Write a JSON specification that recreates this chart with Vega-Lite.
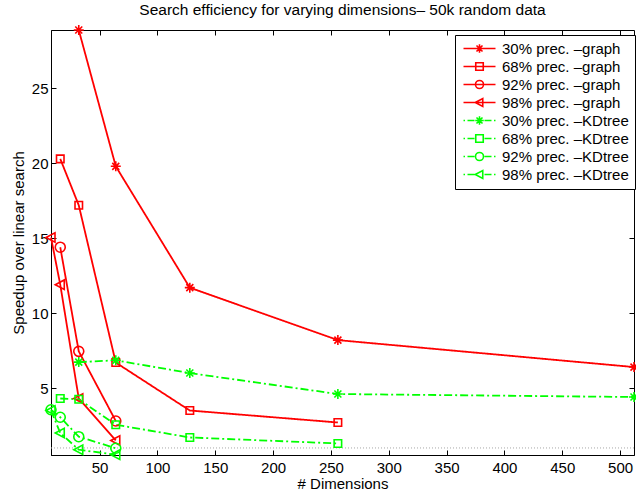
{
  "$schema": "https://vega.github.io/schema/vega-lite/v6.json",
  "width": 583,
  "height": 425,
  "autosize": "none",
  "padding": {"left": 51, "top": 30, "right": 2, "bottom": 41},
  "background": "white",
  "title": {
    "text": "Search efficiency for varying dimensions– 50k random data",
    "font": "Liberation Sans",
    "fontSize": 15.5,
    "fontWeight": "normal",
    "color": "black",
    "anchor": "middle",
    "offset": 3
  },
  "config": {
    "view": {"stroke": "black", "strokeWidth": 1},
    "axis": {
      "grid": false,
      "domainColor": "black",
      "tickColor": "black",
      "labelColor": "black",
      "titleColor": "black",
      "labelFont": "Liberation Sans",
      "titleFont": "Liberation Sans",
      "labelFontSize": 15,
      "titleFontSize": 15,
      "titleFontWeight": "normal",
      "tickSize": -5,
      "labelPadding": 8
    }
  },
  "datasets": {
    "speedup": [
      {"dims": 32, "speedup": 28.9, "series": "30% prec. –graph"},
      {"dims": 64, "speedup": 19.8, "series": "30% prec. –graph"},
      {"dims": 128, "speedup": 11.7, "series": "30% prec. –graph"},
      {"dims": 256, "speedup": 8.2, "series": "30% prec. –graph"},
      {"dims": 512, "speedup": 6.4, "series": "30% prec. –graph"},
      {"dims": 16, "speedup": 20.3, "series": "68% prec. –graph"},
      {"dims": 32, "speedup": 17.2, "series": "68% prec. –graph"},
      {"dims": 64, "speedup": 6.7, "series": "68% prec. –graph"},
      {"dims": 128, "speedup": 3.5, "series": "68% prec. –graph"},
      {"dims": 256, "speedup": 2.7, "series": "68% prec. –graph"},
      {"dims": 16, "speedup": 14.4, "series": "92% prec. –graph"},
      {"dims": 32, "speedup": 7.45, "series": "92% prec. –graph"},
      {"dims": 64, "speedup": 2.8, "series": "92% prec. –graph"},
      {"dims": 8, "speedup": 15.05, "series": "98% prec. –graph"},
      {"dims": 16, "speedup": 11.9, "series": "98% prec. –graph"},
      {"dims": 32, "speedup": 4.3, "series": "98% prec. –graph"},
      {"dims": 64, "speedup": 1.5, "series": "98% prec. –graph"},
      {"dims": 32, "speedup": 6.73, "series": "30% prec. –KDtree"},
      {"dims": 64, "speedup": 6.85, "series": "30% prec. –KDtree"},
      {"dims": 128, "speedup": 6.0, "series": "30% prec. –KDtree"},
      {"dims": 256, "speedup": 4.6, "series": "30% prec. –KDtree"},
      {"dims": 512, "speedup": 4.4, "series": "30% prec. –KDtree"},
      {"dims": 16, "speedup": 4.3, "series": "68% prec. –KDtree"},
      {"dims": 32, "speedup": 4.25, "series": "68% prec. –KDtree"},
      {"dims": 64, "speedup": 2.55, "series": "68% prec. –KDtree"},
      {"dims": 128, "speedup": 1.7, "series": "68% prec. –KDtree"},
      {"dims": 256, "speedup": 1.3, "series": "68% prec. –KDtree"},
      {"dims": 8, "speedup": 3.55, "series": "92% prec. –KDtree"},
      {"dims": 16, "speedup": 3.05, "series": "92% prec. –KDtree"},
      {"dims": 32, "speedup": 1.75, "series": "92% prec. –KDtree"},
      {"dims": 64, "speedup": 0.98, "series": "92% prec. –KDtree"},
      {"dims": 8, "speedup": 3.5, "series": "98% prec. –KDtree"},
      {"dims": 16, "speedup": 2.0, "series": "98% prec. –KDtree"},
      {"dims": 32, "speedup": 0.88, "series": "98% prec. –KDtree"},
      {"dims": 64, "speedup": 0.55, "series": "98% prec. –KDtree"}
    ],
    "baseline": [{"speedup": 1}]
  },
  "resolve": {
    "axis": {"x": "independent", "y": "independent"},
    "scale": {"shape": "independent"},
    "legend": {"shape": "independent"}
  },
  "layer": [
    {
      "data": {"name": "baseline"},
      "mark": {"type": "rule", "color": "#a8a8a8", "strokeWidth": 1, "strokeDash": [1, 2]},
      "encoding": {
        "y": {
          "field": "speedup", "type": "quantitative",
          "scale": {"domain": [0.53, 28.9], "nice": false, "zero": false},
          "axis": {"values": [5, 10, 15, 20, 25], "title": "Speedup over linear search", "titlePadding": 5}
        }
      }
    },
    {
      "data": {"name": "speedup"},
      "mark": {"type": "line", "strokeWidth": 1.8, "clip": false},
      "encoding": {
        "x": {
          "field": "dims", "type": "quantitative",
          "scale": {"domain": [8, 512], "nice": false, "zero": false},
          "axis": {"values": [50, 100, 150, 200, 250, 300, 350, 400, 450, 500], "title": "# Dimensions", "titlePadding": 1, "labelPadding": 10}
        },
        "y": {"field": "speedup", "type": "quantitative", "axis": null},
        "order": {"field": "dims"},
        "color": {
          "field": "series", "type": "nominal",
          "scale": {
            "domain": ["30% prec. –graph", "68% prec. –graph", "92% prec. –graph", "98% prec. –graph", "30% prec. –KDtree", "68% prec. –KDtree", "92% prec. –KDtree", "98% prec. –KDtree"],
            "range": ["#ff0000", "#ff0000", "#ff0000", "#ff0000", "#00ff00", "#00ff00", "#00ff00", "#00ff00"]
          },
          "legend": null
        },
        "strokeDash": {
          "field": "series", "type": "nominal",
          "scale": {
            "domain": ["30% prec. –graph", "68% prec. –graph", "92% prec. –graph", "98% prec. –graph", "30% prec. –KDtree", "68% prec. –KDtree", "92% prec. –KDtree", "98% prec. –KDtree"],
            "range": [[1, 0], [1, 0], [1, 0], [1, 0], [8, 3, 2, 3], [8, 3, 2, 3], [8, 3, 2, 3], [8, 3, 2, 3]]
          },
          "legend": null
        }
      }
    },
    {
      "data": {"name": "speedup"},
      "mark": {"type": "point", "filled": false, "size": 100, "strokeWidth": 1.6, "opacity": 1, "clip": false},
      "encoding": {
        "x": {"field": "dims", "type": "quantitative", "axis": null},
        "y": {"field": "speedup", "type": "quantitative", "axis": null},
        "color": {"field": "series", "type": "nominal", "legend": null},
        "shape": {
          "field": "series", "type": "nominal",
          "scale": {
            "domain": ["30% prec. –graph", "68% prec. –graph", "92% prec. –graph", "98% prec. –graph", "30% prec. –KDtree", "68% prec. –KDtree", "92% prec. –KDtree", "98% prec. –KDtree"],
            "range": [
              "M-1,0L1,0M0,-1L0,1M-0.7,-0.7L0.7,0.7M-0.7,0.7L0.7,-0.7",
              "M-0.75,-0.75L0.75,-0.75L0.75,0.75L-0.75,0.75Z",
              "circle",
              "M-1,0L0.8,-0.95L0.8,0.95Z",
              "M-1,0L1,0M0,-1L0,1M-0.7,-0.7L0.7,0.7M-0.7,0.7L0.7,-0.7",
              "M-0.75,-0.75L0.75,-0.75L0.75,0.75L-0.75,0.75Z",
              "circle",
              "M-1,0L0.8,-0.95L0.8,0.95Z"
            ]
          },
          "legend": null
        }
      }
    },
    {
      "data": {"name": "speedup"},
      "mark": {"type": "point", "opacity": 0, "filled": false, "size": 100, "strokeWidth": 1.6},
      "encoding": {
        "x": {
          "field": "dims", "type": "quantitative", "title": null,
          "axis": {"orient": "top", "values": [50, 100, 150, 200, 250, 300, 350, 400, 450, 500], "labels": false, "title": null, "domain": false}
        },
        "y": {
          "field": "speedup", "type": "quantitative", "title": null,
          "axis": {"orient": "right", "values": [5, 10, 15, 20, 25], "labels": false, "title": null, "domain": false}
        },
        "shape": {
          "field": "series", "type": "nominal",
          "scale": {
            "domain": ["30% prec. –graph", "68% prec. –graph", "92% prec. –graph", "98% prec. –graph", "30% prec. –KDtree", "68% prec. –KDtree", "92% prec. –KDtree", "98% prec. –KDtree"],
            "range": [
              "M-1,0L5.4,0M2.2,-0.85L2.2,0.85M1.35,0L3.05,0M1.6,-0.6L2.8,0.6M1.6,0.6L2.8,-0.6",
              "M-1,0L5.4,0M1.45,-0.75L2.95,-0.75L2.95,0.75L1.45,0.75Z",
              "M-1,0L5.4,0M3,0A0.8,0.8 0 1,1 1.4,0A0.8,0.8 0 1,1 3,0Z",
              "M-1,0L5.4,0M1.35,0L2.85,-0.8L2.85,0.8Z",
              "M-1,0L-0.7,0M-0.2,0L1.2,0M3.2,0L4.6,0M5.1,0L5.4,0M2.2,-0.85L2.2,0.85M1.35,0L3.05,0M1.6,-0.6L2.8,0.6M1.6,0.6L2.8,-0.6",
              "M-1,0L-0.7,0M-0.2,0L1.2,0M3.2,0L4.6,0M5.1,0L5.4,0M1.45,-0.75L2.95,-0.75L2.95,0.75L1.45,0.75Z",
              "M-1,0L-0.7,0M-0.2,0L1.2,0M3.2,0L4.6,0M5.1,0L5.4,0M3,0A0.8,0.8 0 1,1 1.4,0A0.8,0.8 0 1,1 3,0Z",
              "M-1,0L-0.7,0M-0.2,0L1.2,0M3.2,0L4.6,0M5.1,0L5.4,0M1.35,0L2.85,-0.8L2.85,0.8Z"
            ]
          },
          "legend": {
            "title": null,
            "orient": "none",
            "legendX": 404,
            "legendY": 5,
            "fillColor": "white",
            "strokeColor": "black",
            "padding": 6,
            "labelFont": "Liberation Sans",
            "labelFontSize": 15,
            "labelColor": "black",
            "labelOffset": 26,
            "rowPadding": 2,
            "symbolOpacity": 1,
            "symbolStrokeWidth": 1.6,
            "symbolFillColor": "transparent",
            "symbolStrokeColor": {"expr": "indexof(datum.value, 'KDtree') >= 0 ? '#00ff00' : '#ff0000'"}
          }
        }
      }
    }
  ]
}
